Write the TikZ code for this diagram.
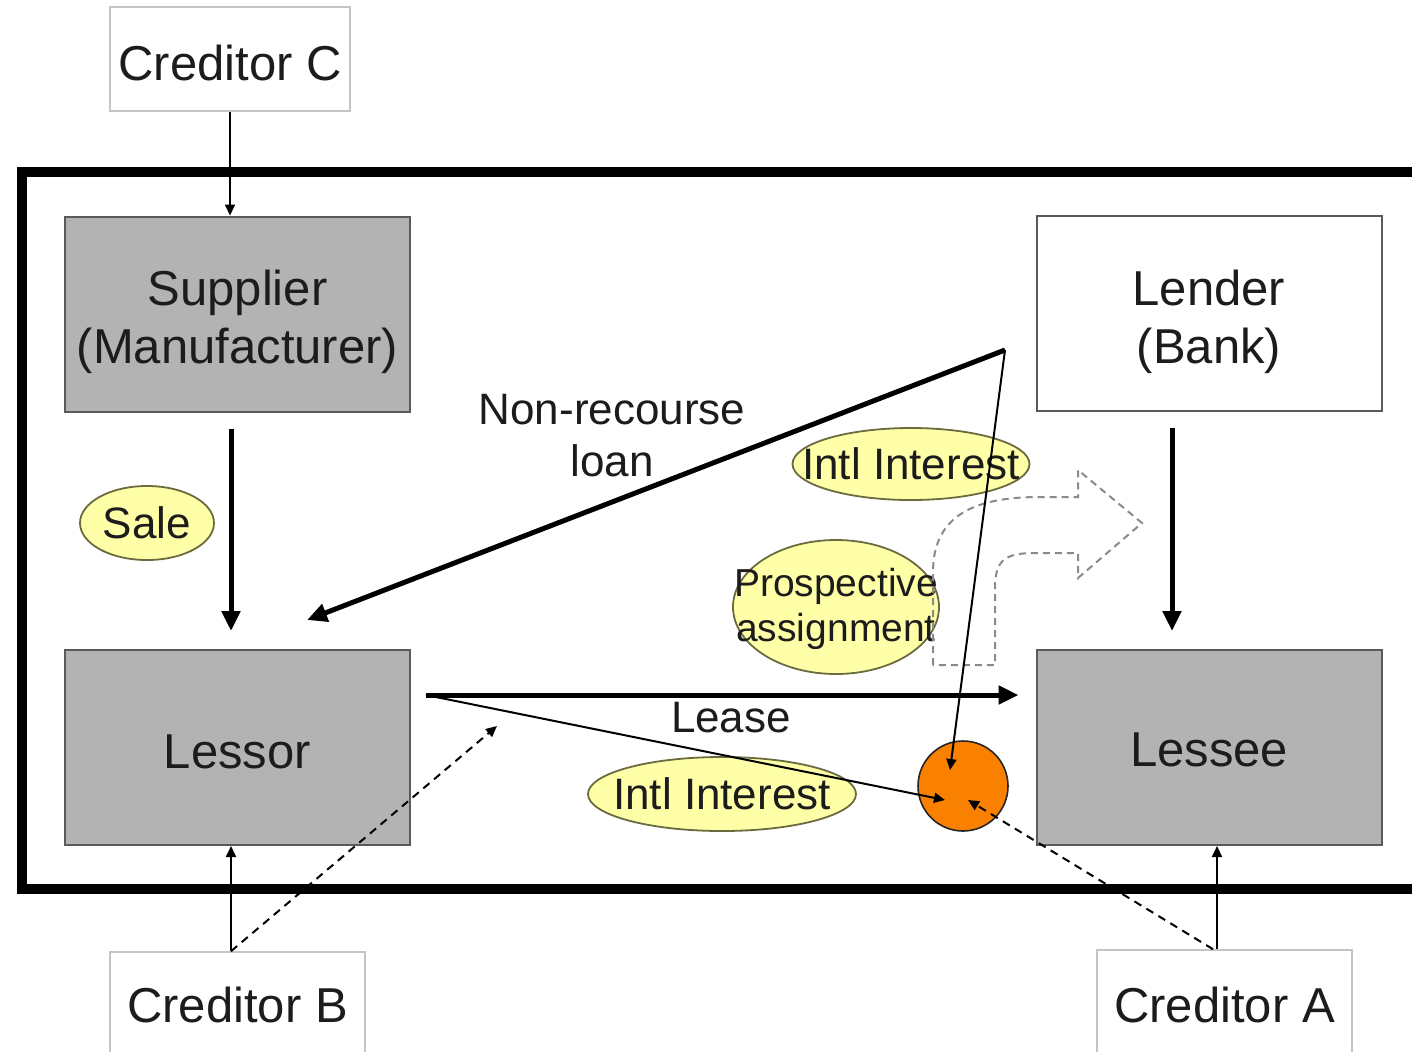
\documentclass[tikz,border=0pt]{standalone}
\usepackage{fontspec}
\setmainfont{Liberation Sans}
\usetikzlibrary{arrows.meta,shapes.geometric,calc}
\definecolor{boxgray}{HTML}{B3B3B3}
\definecolor{boxline}{HTML}{5A5A5A}
\definecolor{credline}{HTML}{C4C4C4}
\definecolor{ellfill}{HTML}{FFFFA8}
\definecolor{ellline}{HTML}{6B6B40}
\definecolor{orng}{HTML}{FA8000}
\definecolor{txt}{HTML}{1C1C1C}
\definecolor{dashgray}{HTML}{8A8A8A}
\begin{document}
\begin{tikzpicture}[x=0.5pt,y=-0.5pt,
  bigfont/.style={font=\fontsize{24.5}{29}\selectfont},
  midfont/.style={font=\fontsize{22}{26}\selectfont},
  smallfont/.style={font=\fontsize{19.5}{22.5}\selectfont},
  graybox/.style={draw=boxline,line width=1pt,fill=boxgray,minimum width=172.5pt,minimum height=97.5pt,inner sep=0pt},
  whitebox/.style={graybox,fill=white},
  boxtext/.style={bigfont,text=txt,align=center,inner sep=0pt},
  credbox/.style={draw=credline,line width=0.8pt,fill=white,minimum width=127.5pt,minimum height=52pt,inner sep=0pt},
  tagshape/.style={ellipse,draw=ellline,line width=0.9pt,fill=ellfill,inner sep=0pt},
  tagtext/.style={midfont,text=txt,align=center,inner sep=0pt},
  bigarrow/.style={line width=2.5pt,-{Triangle[length=10pt,width=9pt]}},
  smallarrow/.style={line width=1pt,-{Triangle[length=5.5pt,width=5pt]}},
  dasharrow/.style={smallarrow,dash pattern=on 4pt off 3pt}
]
\useasboundingbox (0,0) rectangle (1412,1051);
\clip (0,0) rectangle (1412,1051);
\fill[white] (0,0) rectangle (1412,1051);

% frame
\draw[line width=5pt,line join=miter] (1440,172) -- (22,172) -- (22,889) -- (1440,889);

% boxes
\node[credbox,minimum width=120pt] (credC) at (230,59) {};
\node[boxtext] at ($(credC)+(0,4)$) {Creditor C};
\node[graybox] (sup) at (237.5,314) {};
\node[boxtext] at ($(sup)+(0,8)$) {Supplier\\(Manufacturer)};
\node[whitebox] (lend) at (1209,313.5) {};
\node[boxtext] at ($(lend)+(0,8)$) {Lender\\(Bank)};
\node[graybox] (lessor) at (237.5,747.5) {};
\node[boxtext] at ($(lessor)+(0,4)$) {Lessor};
\node[graybox] (lessee) at (1209,747.5) {};
\node[boxtext] at ($(lessee)+(0,2)$) {Lessee};
\node[credbox] (credB) at (237.5,1004) {};
\node[boxtext] at ($(credB)+(0,1)$) {Creditor B};
\node[credbox] (credA) at (1224.5,1002) {};
\node[boxtext] at ($(credA)+(0,3)$) {Creditor A};

% ellipses
\node[tagshape,minimum width=67pt,minimum height=37pt] (sale) at (147,523) {};
\node[tagtext] at (sale) {Sale};
\node[tagshape,minimum width=118.5pt,minimum height=36pt] (iiT) at (911,464) {};
\node[tagtext] at (iiT) {Intl Interest};
\node[tagshape,minimum width=103pt,minimum height=67pt] (pa) at (836,607) {};
\node[tagtext,smallfont] at ($(pa)+(0,2)$) {Prospective\\assignment};
\node[tagshape,minimum width=134pt,minimum height=37pt] (iiB) at (722,794) {};
\node[tagtext] at (iiB) {Intl Interest};

% dashed block arrow
\draw[dashgray,line width=1pt,dash pattern=on 3.5pt off 2.5pt]
  (933,665) -- (933,572) .. controls (933,515) and (975,497) .. (1040,497)
  -- (1078,497) -- (1078,470) -- (1142,523) -- (1078,578) -- (1078,553)
  -- (1035,553) .. controls (1005,553) and (995,560) .. (995,588)
  -- (995,665) -- cycle;

% circle
\node[circle,draw=black!85,fill=orng,line width=0.8pt,minimum size=45pt,inner sep=0pt] (circ) at (963,786) {};

% texts
\node[midfont,align=center,text=txt] (nrl) at (612,436) {Non-recourse\\loan};
\node[midfont,text=txt] (lease) at (731,718) {Lease};

% coordinates
\coordinate (lv) at (1005,350);
\coordinate (nrtip) at (307,620);
\coordinate (ls) at ([xshift=7.5pt,yshift=26.25pt]lessor.east);
\coordinate (bt) at (497,726);

% connectors
\draw[smallarrow] (credC.south) -- (credC.south |- sup.north);
\draw[bigarrow,shorten <=8pt,shorten >=9pt] ([xshift=-3.25pt]sup.south) -- ([xshift=-3.25pt]lessor.north);
\draw[bigarrow,shorten <=8pt,shorten >=9pt] ([xshift=-18.5pt]lend.south) -- ([xshift=-18.5pt]lessee.north);
\draw[bigarrow,line cap=butt] (lv) -- (nrtip);
\draw[smallarrow] (lv) -- ($(circ.center)+(-13,-16)$);
\draw[bigarrow,shorten >=8.5pt] (ls) -- (ls -| lessee.west);
\draw[smallarrow] (ls) -- ($(circ.center)+(-18,14)$);
\draw[smallarrow] ([xshift=-3.25pt]credB.north) -- ([xshift=-3.25pt]lessor.south);
\draw[dasharrow] ([xshift=-3.25pt]credB.north) -- (bt);
\draw[smallarrow] ([xshift=-3.75pt]credA.north) -- ([xshift=-3.75pt]credA.north |- lessee.south);
\draw[dasharrow] ([xshift=-5.75pt]credA.north) -- ($(circ.center)+(5,14)$);
\end{tikzpicture}
\end{document}
